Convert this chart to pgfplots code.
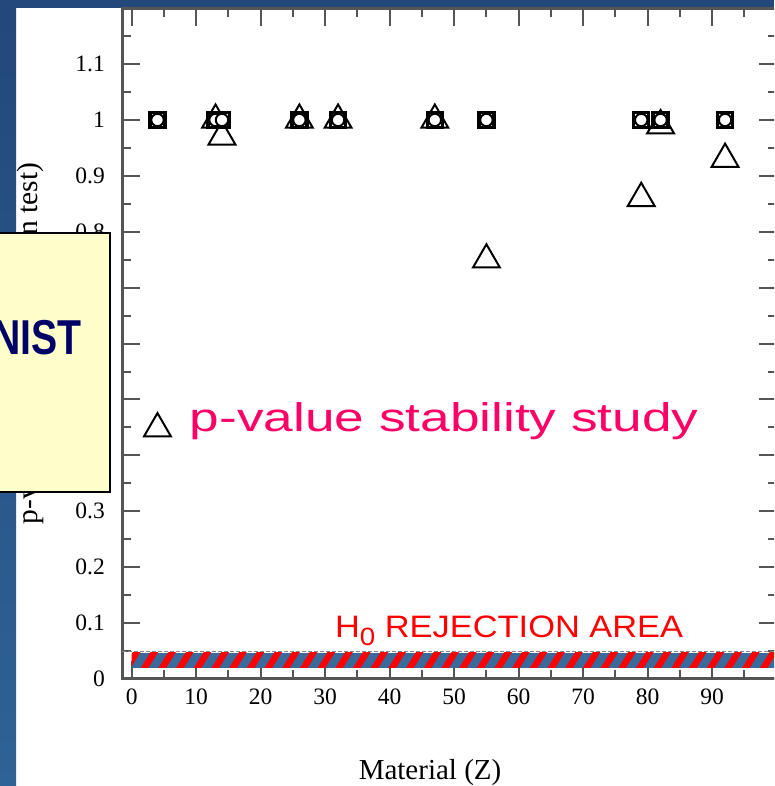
\documentclass[border=0pt]{standalone}
\usepackage{pgfplots}
\pgfplotsset{compat=1.18}
\usepackage{fontspec}
\usepackage{graphicx}
\usetikzlibrary{patterns.meta}
\setmainfont{Liberation Serif}
\newfontfamily\arial{Liberation Sans}
\definecolor{stripTop}{HTML}{23487A}
\definecolor{stripBot}{HTML}{2F6296}
\definecolor{bandblue}{HTML}{386A9B}
\definecolor{boxyellow}{HTML}{FFFFCC}
\definecolor{navy}{HTML}{000066}
\definecolor{pinkc}{HTML}{FF0066}
\definecolor{axisgray}{HTML}{555555}
\definecolor{dashgray}{HTML}{888888}

\begin{document}
\begin{tikzpicture}[x=1pt,y=1pt]
\useasboundingbox (0pt,0pt) rectangle (774pt,786pt);
\clip (0pt,0pt) rectangle (774pt,786pt);
\fill[white] (0pt,0pt) rectangle (774pt,786pt);
\shade[top color=stripTop,bottom color=stripBot] (0pt,0pt) rectangle (16pt,786pt);
\fill[stripTop] (0pt,778pt) rectangle (774pt,786pt);

\begin{axis}[
    at={(122pt,107pt)}, anchor=south west,
    x=6.45pt, y=559pt,
    xmin=-1.5, xmax=100, ymin=0, ymax=1.2,
    clip=false,
    axis line style={draw=axisgray, line width=3pt},
    tick style={draw=axisgray, line width=2pt},
    tick align=inside,
    major tick length=18pt, minor tick length=9pt,
    xtick={0,10,...,90}, minor xtick={5,15,...,95},
    ytick={0,0.1,0.2,0.3,0.4,0.5,0.6,0.7,0.8,0.9,1,1.1},
    minor ytick={0.05,0.15,0.25,0.35,0.45,0.55,0.65,0.75,0.85,0.95,1.05,1.15},
    /pgf/number format/assume math mode=true,
    tick label style={font=\fontsize{23.5}{27}\selectfont, inner sep=0pt},
    xticklabel shift=10pt, yticklabel shift=17pt,
    xlabel={Material (Z)},
    ylabel={p-value (GoF comparison test)},
    every axis x label/.style={at={(axis description cs:0.4705,-0.1395)}, anchor=center, font=\fontsize{29}{34}\selectfont},
    every axis y label/.style={at={(axis description cs:-0.1405,0.5)}, rotate=90, anchor=center, font=\fontsize{29.5}{34}\selectfont},
]
% stability study (triangles)
\addplot[only marks, mark=triangle, mark size=15.5pt, mark options={line width=2pt, draw=black, fill=none}] coordinates {
    (4,0.448) (13,1.0) (14,0.97) (26,1.0) (32,1.0) (47,1.0) (55,0.75) (79,0.86) (82,0.99) (92,0.93)
};
% squares
\addplot[only marks, mark=square, mark size=7.5pt, mark options={line width=3.5pt, draw=black, fill=white}] coordinates {
    (4,1) (13,1) (14,1) (26,1) (32,1) (47,1) (55,1) (79,1) (82,1) (92,1)
};
% circles
\addplot[only marks, mark=*, mark size=6.2pt, mark options={line width=2pt, draw=black, fill=white}] coordinates {
    (4,1) (13,1) (14,1) (26,1) (32,1) (47,1) (55,1) (79,1) (82,1) (92,1)
};
% H0 rejection area
\addplot[draw=none, fill=bandblue, postaction={pattern={Lines[angle=58,distance=15pt,line width=6.5pt]}, pattern color=red}]
    coordinates {(0,0.02) (100,0.02) (100,0.047) (0,0.047)} -- cycle;
\addplot[draw=dashgray, line width=1.5pt, dash pattern=on 4pt off 2pt] coordinates {(-1.5,0.049) (100,0.049)};

\node[anchor=base west, inner sep=0pt, text=pinkc, font=\arial\fontsize{40}{40}\selectfont]
    at (axis cs:9.0,0.442) {\scalebox{1.33}[1]{p-value stability study}};
\node[anchor=base west, inner sep=0pt, text=red, font=\arial\fontsize{31}{31}\selectfont]
    at (axis cs:31.5,0.075) {\scalebox{1.11}[1]{H\raisebox{-0.28em}{\fontsize{25}{25}\selectfont 0} REJECTION AREA}};
\end{axis}

\draw[line width=2pt, fill=boxyellow] (-10pt,294pt) rectangle (110pt,553pt);
\node[anchor=base east, inner sep=0pt, text=navy, font=\arial\bfseries\fontsize{49}{49}\selectfont]
    at (82pt,431pt) {\scalebox{0.8}[1]{NIST}};
\end{tikzpicture}
\end{document}
